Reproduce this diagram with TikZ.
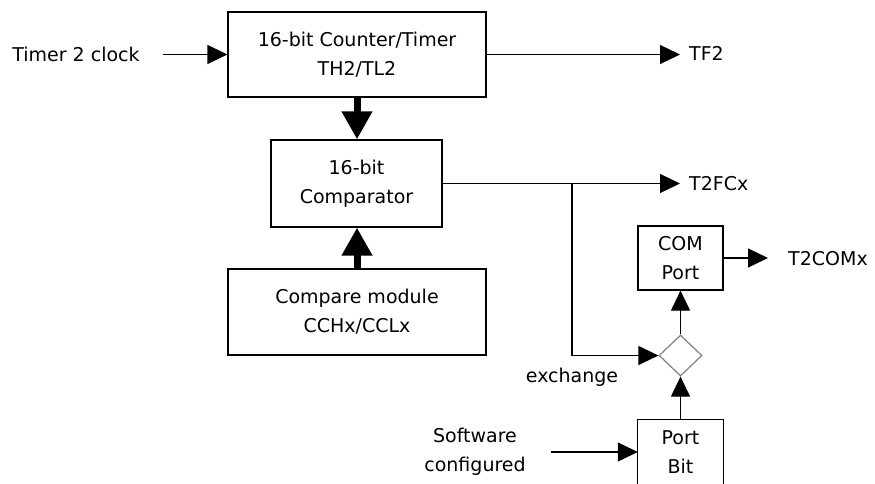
\documentclass[tikz,border=0pt]{standalone}
\usepackage{fontspec}
\setmainfont{DejaVu Sans}
\usetikzlibrary{arrows.meta,shapes.geometric}
\definecolor{diagray}{RGB}{128,128,128}
\begin{document}
\begin{tikzpicture}[x=1pt,y=-1pt,
  every node/.style={font=\fontsize{19}{29}\selectfont, align=center},
  box/.style={draw, line width=1.2pt, inner sep=0pt},
  thin/.style={line width=1.2pt, -{Triangle[length=20pt,width=19pt]}},
  thick/.style={line width=7pt, -{Triangle[length=28pt,width=29pt]}},
  lbl/.style={inner sep=0pt}
]
\useasboundingbox (0,0) rectangle (875,483);
% blocks
\node[box, minimum width=258pt, minimum height=85pt] (top) at (357,54.5) {16-bit Counter/Timer\\TH2/TL2};
\node[box, minimum width=171pt, minimum height=87pt] (comp) at (356.5,183.5) {16-bit\\Comparator};
\node[box, minimum width=258pt, minimum height=86pt] (cmod) at (357,312) {Compare module\\CCHx/CCLx};
\node[box, minimum width=85pt, minimum height=64pt] (com) at (680.5,258) {COM\\Port};
\node[diamond, draw=diagray, line width=1.2pt, inner sep=0pt, minimum width=43pt, minimum height=41pt] (dia) at (680.5,355.5) {};
\node[inner sep=0pt, minimum width=85pt, minimum height=64pt] (pbit) at (680.5,452) {Port\\Bit};
\draw[line width=1.2pt] ([yshift=-8pt]pbit.south west) -- (pbit.north west) -- (pbit.north east) -- ([yshift=-8pt]pbit.south east);
% labels
\node[lbl] (clk) at (76,54) {Timer 2 clock};
\node[lbl, anchor=west] (tf2) at (689,53) {TF2};
\node[lbl, anchor=west] (t2fc) at (689,183.5) {T2FCx};
\node[lbl, anchor=west] (t2com) at (788,259) {T2COMx};
\node[lbl] (exch) at (572,377) {exchange};
\node[lbl] (sw) at (475,452) {Software\\configured};
% coordinates
\coordinate (clkstart) at (163,54.5);
\coordinate (tf2end) at (680,54.5);
\coordinate (t2fcend) at (680,183.5);
\coordinate (branch) at (572,183.5);
\coordinate (t2comend) at (768,258);
\coordinate (swstart) at (551,452);
% connectors
\draw[thin] (clkstart) -- (top.west);
\draw[thin] (top.east) -- (tf2end);
\draw[thick] (top.south) -- (top.south |- comp.north);
\draw[thick] (cmod.north) -- (cmod.north |- comp.south);
\draw[thin] (comp.east) -- (t2fcend);
\draw[thin] (branch) |- (dia.west);
\draw[thin] (dia.north) -- (com.south);
\draw[thin] (com.east) -- (t2comend);
\draw[thin] (pbit.north) -- (dia.south);
\draw[thin] (swstart) -- (pbit.west);
\end{tikzpicture}
\end{document}
